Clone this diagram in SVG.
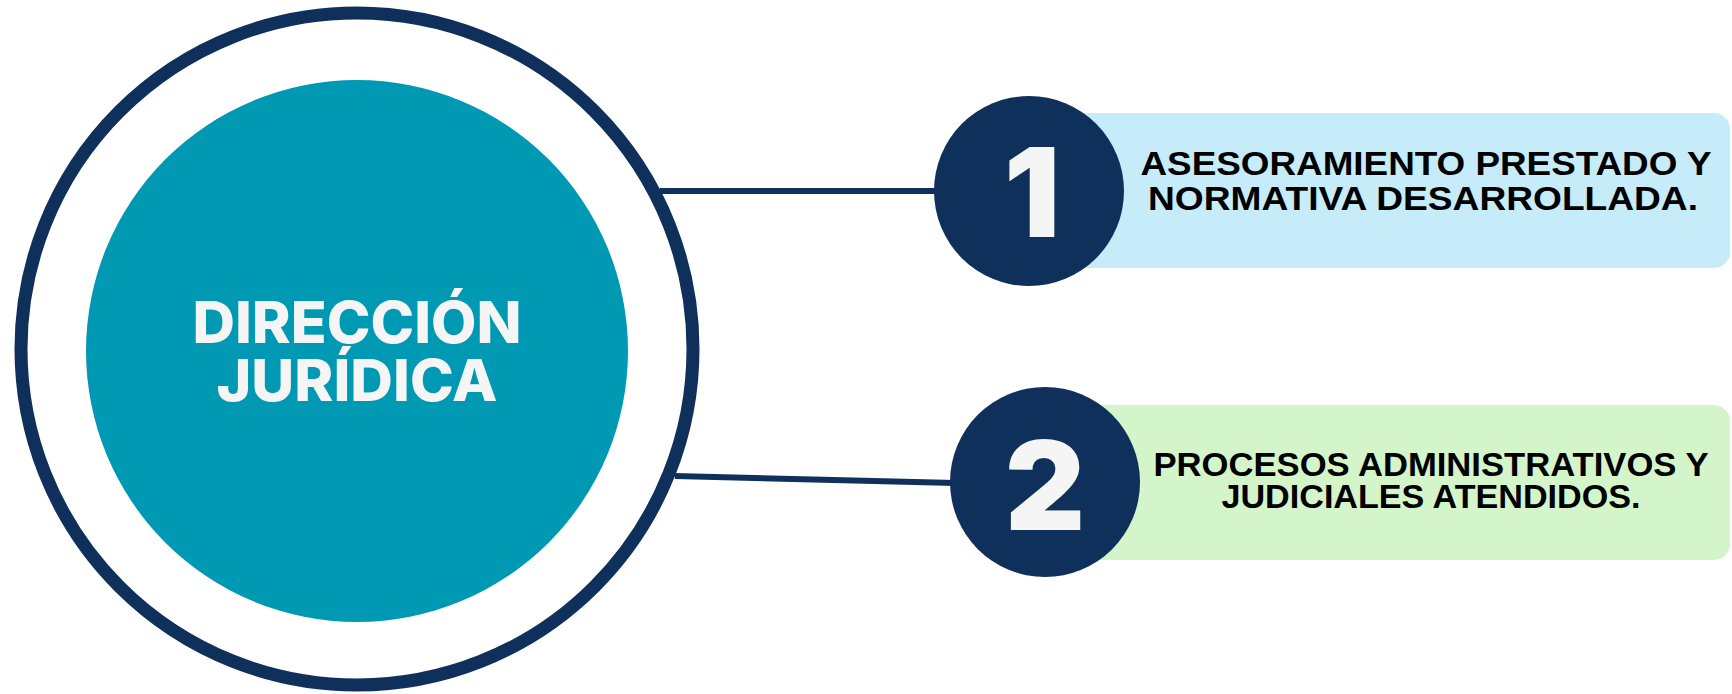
<svg xmlns="http://www.w3.org/2000/svg" width="1732" height="694" viewBox="0 0 1732 694">
<style>
.conn{stroke:#10305c;stroke-width:6;fill:none}
.badge{fill:#10305c}
.num{font-family:Inter,"Liberation Sans",sans-serif;font-weight:900;fill:#f5f5f5;text-anchor:middle}
.lbl{font-family:"Liberation Sans",Arial,sans-serif;font-weight:bold;fill:#000;font-size:33px;text-anchor:middle}
.main{font-family:Inter,"Liberation Sans",sans-serif;font-weight:800;fill:#f5f5f5;font-size:58px;text-anchor:middle}
</style>
<rect width="1732" height="694" fill="#ffffff"/>
<g id="connectors">
<line class="conn" x1="660" y1="191" x2="940" y2="191"/>
<line class="conn" x1="675" y1="476" x2="955" y2="483"/>
</g>
<g id="center">
<circle cx="357" cy="349" r="336" fill="#ffffff" stroke="#10305c" stroke-width="13"/>
<circle cx="357" cy="351" r="271" fill="#0099b4"/>
<text class="main" x="357" y="343" textLength="329" lengthAdjust="spacingAndGlyphs">DIRECCIÓN</text>
<text class="main" x="357" y="401" textLength="281" lengthAdjust="spacingAndGlyphs">JURÍDICA</text>
</g>
<g id="item1">
<rect x="1029" y="113" width="701" height="155" rx="16" fill="#c5ecf8"/>
<circle class="badge" cx="1029" cy="191" r="95"/>
<text class="num" x="1032" y="237" font-size="124">1</text>
<text class="lbl" x="1426" y="175" textLength="571" lengthAdjust="spacingAndGlyphs">ASESORAMIENTO PRESTADO Y</text>
<text class="lbl" x="1423" y="210" textLength="550" lengthAdjust="spacingAndGlyphs">NORMATIVA DESARROLLADA.</text>
</g>
<g id="item2">
<rect x="1045" y="405" width="685" height="155" rx="16" fill="#d4f5ca"/>
<circle class="badge" cx="1045" cy="482" r="95"/>
<text class="num" x="1045" y="530" font-size="124">2</text>
<text class="lbl" x="1431" y="476" textLength="555" lengthAdjust="spacingAndGlyphs">PROCESOS ADMINISTRATIVOS Y</text>
<text class="lbl" x="1431" y="508" textLength="419" lengthAdjust="spacingAndGlyphs">JUDICIALES ATENDIDOS.</text>
</g>
</svg>
